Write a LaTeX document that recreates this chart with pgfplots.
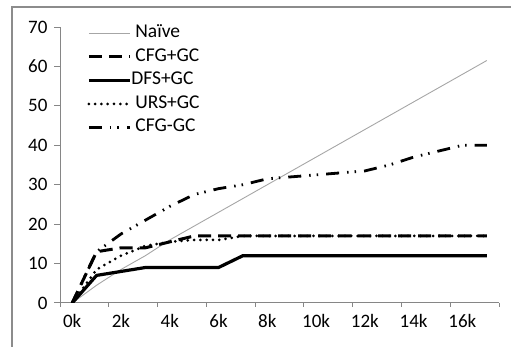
\documentclass[border=0pt]{standalone}
\usepackage{pgfplots}
\pgfplotsset{compat=1.18}
\usepackage{pgfplotstable}
\usepackage{fontspec}
\setmainfont{Carlito}

\definecolor{axisgray}{HTML}{868686}
\definecolor{framegray}{HTML}{8C8C8C}
\definecolor{naivegray}{HTML}{A6A6A6}

% run time (s) against input size (thousands)
\pgfplotstableread{
x y
0 0
1 4.5
2 8.5
3 12
4 16
5 19.5
6 23
7 26.5
8 30
9 33.5
10 37
11 40.5
12 44
13 47.5
14 51
15 54.5
16 58
17 61.5
}\naive
\pgfplotstableread{
x y
0 0
1 13
2 14
3 14
4 15.5
5 17
6 17
7 17
8 17
9 17
10 17
11 17
12 17
13 17
14 17
15 17
16 17
17 17
}\cfggc
\pgfplotstableread{
x y
0 0
1 7
2 8
3 9
4 9
5 9
6 9
7 12
8 12
9 12
10 12
11 12
12 12
13 12
14 12
15 12
16 12
17 12
}\dfsgc
\pgfplotstableread{
x y
0 0
1 8.5
2 12
3 14.5
4 15.5
5 16
6 16
7 17
8 17
9 17
10 17
11 17
12 17
13 17
14 17
15 17
16 17
17 17
}\ursgc
\pgfplotstableread{
x y
0 0
1 13
2 17.5
3 21
4 24.5
5 27.5
6 29
7 30
8 31.5
9 32
10 32.5
11 33
12 33.5
13 35
14 37
15 38.5
16 40
17 40
}\cfgnogc

\begin{document}
\begin{tikzpicture}
\useasboundingbox (0pt,0pt) rectangle (511pt,347pt);
% chart frame
\draw[framegray, line width=1.2pt] (12pt,-5pt) -- (12pt,340pt) -- (520pt,340pt);
\begin{axis}[
  at={(60pt,44pt)}, anchor=south west,
  scale only axis, width=439pt, height=276pt,
  xmin=-0.5, xmax=17.5, ymin=0, ymax=70,
  axis lines=left,
  axis line style={-, draw=axisgray, line width=1pt},
  tick align=outside,
  xtick={0,2,...,16},
  xticklabels={0k,2k,4k,6k,8k,10k,12k,14k,16k},
  minor xtick={-0.5,1.5,...,17.5},
  ytick={0,10,...,70},
  major x tick style={draw=none},
  major tick length=6pt,
  minor tick length=4pt,
  tick style={draw=axisgray, line width=1pt},
  /pgf/number format/assume math mode=true,
  tick label style={font=\fontsize{19}{22}\selectfont, text=black},
  xticklabel style={yshift=-2pt},
  yticklabel style={xshift=-3pt},
  legend cell align=left,
  legend style={
    at={(rel axis cs:0.0615,1.008)}, anchor=north west,
    draw=none, fill=none, inner sep=0pt,
    row sep=6.5pt,
    font=\fontsize{19.5}{22}\selectfont,
    nodes={inner sep=0pt, text height=13pt, text depth=4pt},
  },
  legend image code/.code={\draw[#1] (0pt,0pt) -- (41pt,0pt);},
  every axis plot/.append style={line join=round},
]
\addplot[naivegray, line width=0.9pt] table {\naive};
\addlegendentry{\hspace{4pt}Naïve}
\addplot[black, line width=3pt, dash pattern=on 13pt off 7pt] table {\cfggc};
\addlegendentry{\hspace{4pt}CFG+GC}
\addplot[black, line width=3.2pt] table {\dfsgc};
\addlegendentry{\hspace{0pt}DFS+GC}
\addplot[black, line width=3pt, line cap=round, dash pattern=on 0pt off 6.3pt] table {\ursgc};
\addlegendentry{\hspace{4pt}URS+GC}
\addplot[black, line width=2.8pt, dash pattern=on 13pt off 8pt on 1.5pt off 6pt on 1.5pt off 8pt] table {\cfgnogc};
\addlegendentry{\hspace{4pt}CFG-GC}
\end{axis}
\end{tikzpicture}
\end{document}
